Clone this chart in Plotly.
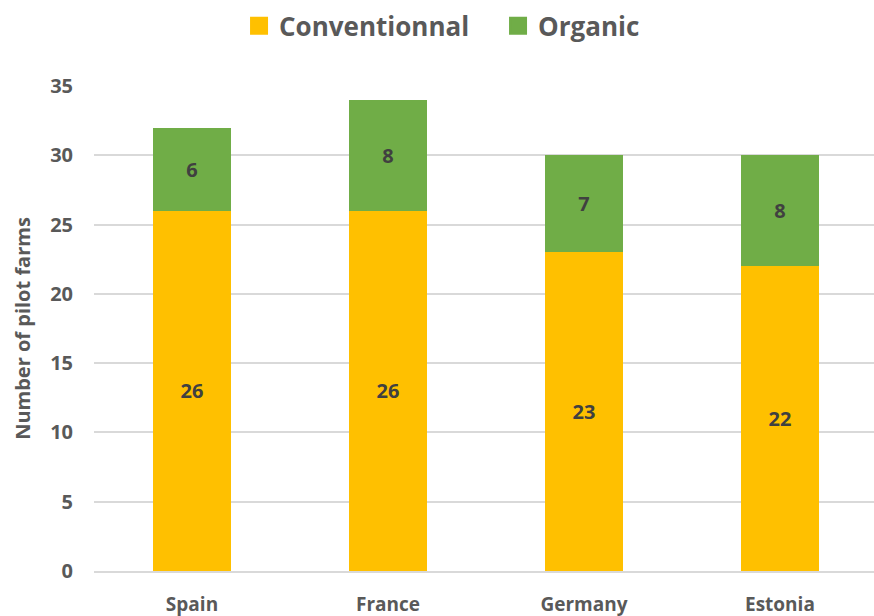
import plotly.graph_objects as go

countries = ["Spain", "France", "Germany", "Estonia"]
conventional = [26, 26, 23, 22]
organic = [6, 8, 7, 8]
y_ticks = [0, 5, 10, 15, 20, 25, 30, 35]

ORANGE = "#FFC000"
GREEN = "#70AD47"
FONT = "Open Sans"
AXIS_COLOR = "#595959"
LABEL_COLOR = "#404040"

fig = go.Figure()
fig.add_trace(go.Bar(
    x=countries, y=conventional, name="Conventionnal",
    marker=dict(color=ORANGE, line=dict(width=0)), width=0.395,
    text=conventional, textposition="inside", insidetextanchor="middle",
    textangle=0,
    textfont=dict(family=FONT, size=20, color=LABEL_COLOR, weight="bold"),
    showlegend=False,
))
fig.add_trace(go.Bar(
    x=countries, y=organic, name="Organic",
    marker=dict(color=GREEN, line=dict(width=0)), width=0.395,
    text=organic, textposition="inside", insidetextanchor="middle",
    textangle=0,
    textfont=dict(family=FONT, size=20, color=LABEL_COLOR, weight="bold"),
    showlegend=False,
))
# legend entries
for name, col in [("Conventionnal", ORANGE), ("Organic", GREEN)]:
    fig.add_trace(go.Scatter(
        x=[None], y=[None], mode="markers", name=name,
        marker=dict(symbol="square", size=16, color=col, line=dict(color=col, width=2)),
        showlegend=True,
    ))

fig.update_layout(
    width=874, height=616,
    barmode="stack",
    plot_bgcolor="white", paper_bgcolor="white",
    margin=dict(l=94, r=0, t=86, b=45),
    font=dict(family=FONT, color=AXIS_COLOR),
    legend=dict(
        orientation="h", x=0.518, y=1.124, xanchor="center", yanchor="middle",
        traceorder="normal", entrywidth=214,
        font=dict(family=FONT, size=26, color=AXIS_COLOR, weight="bold"),
        itemwidth=30, bgcolor="rgba(0,0,0,0)",
    ),
    xaxis=dict(
        type="category", range=[-0.5, 3.48], automargin=False,
        showgrid=False, zeroline=False, showline=True,
        linecolor="#D9D9D9", linewidth=1.5,
        ticks="", ticklabelstandoff=15,
        tickfont=dict(family=FONT, size=19, color=AXIS_COLOR, weight="bold"),
    ),
    yaxis=dict(
        range=[0, 35], tickvals=y_ticks, automargin=False,
        showgrid=True, gridcolor="#D9D9D9", gridwidth=1.5,
        zeroline=False, showline=False, ticks="",
        ticklabelstandoff=20,
        tickfont=dict(family=FONT, size=20, color=AXIS_COLOR, weight="bold"),
        title=dict(text="Number of pilot farms", standoff=14,
                   font=dict(family=FONT, size=20, color=AXIS_COLOR, weight="bold")),
    ),
)

fig.write_html("out.html")
